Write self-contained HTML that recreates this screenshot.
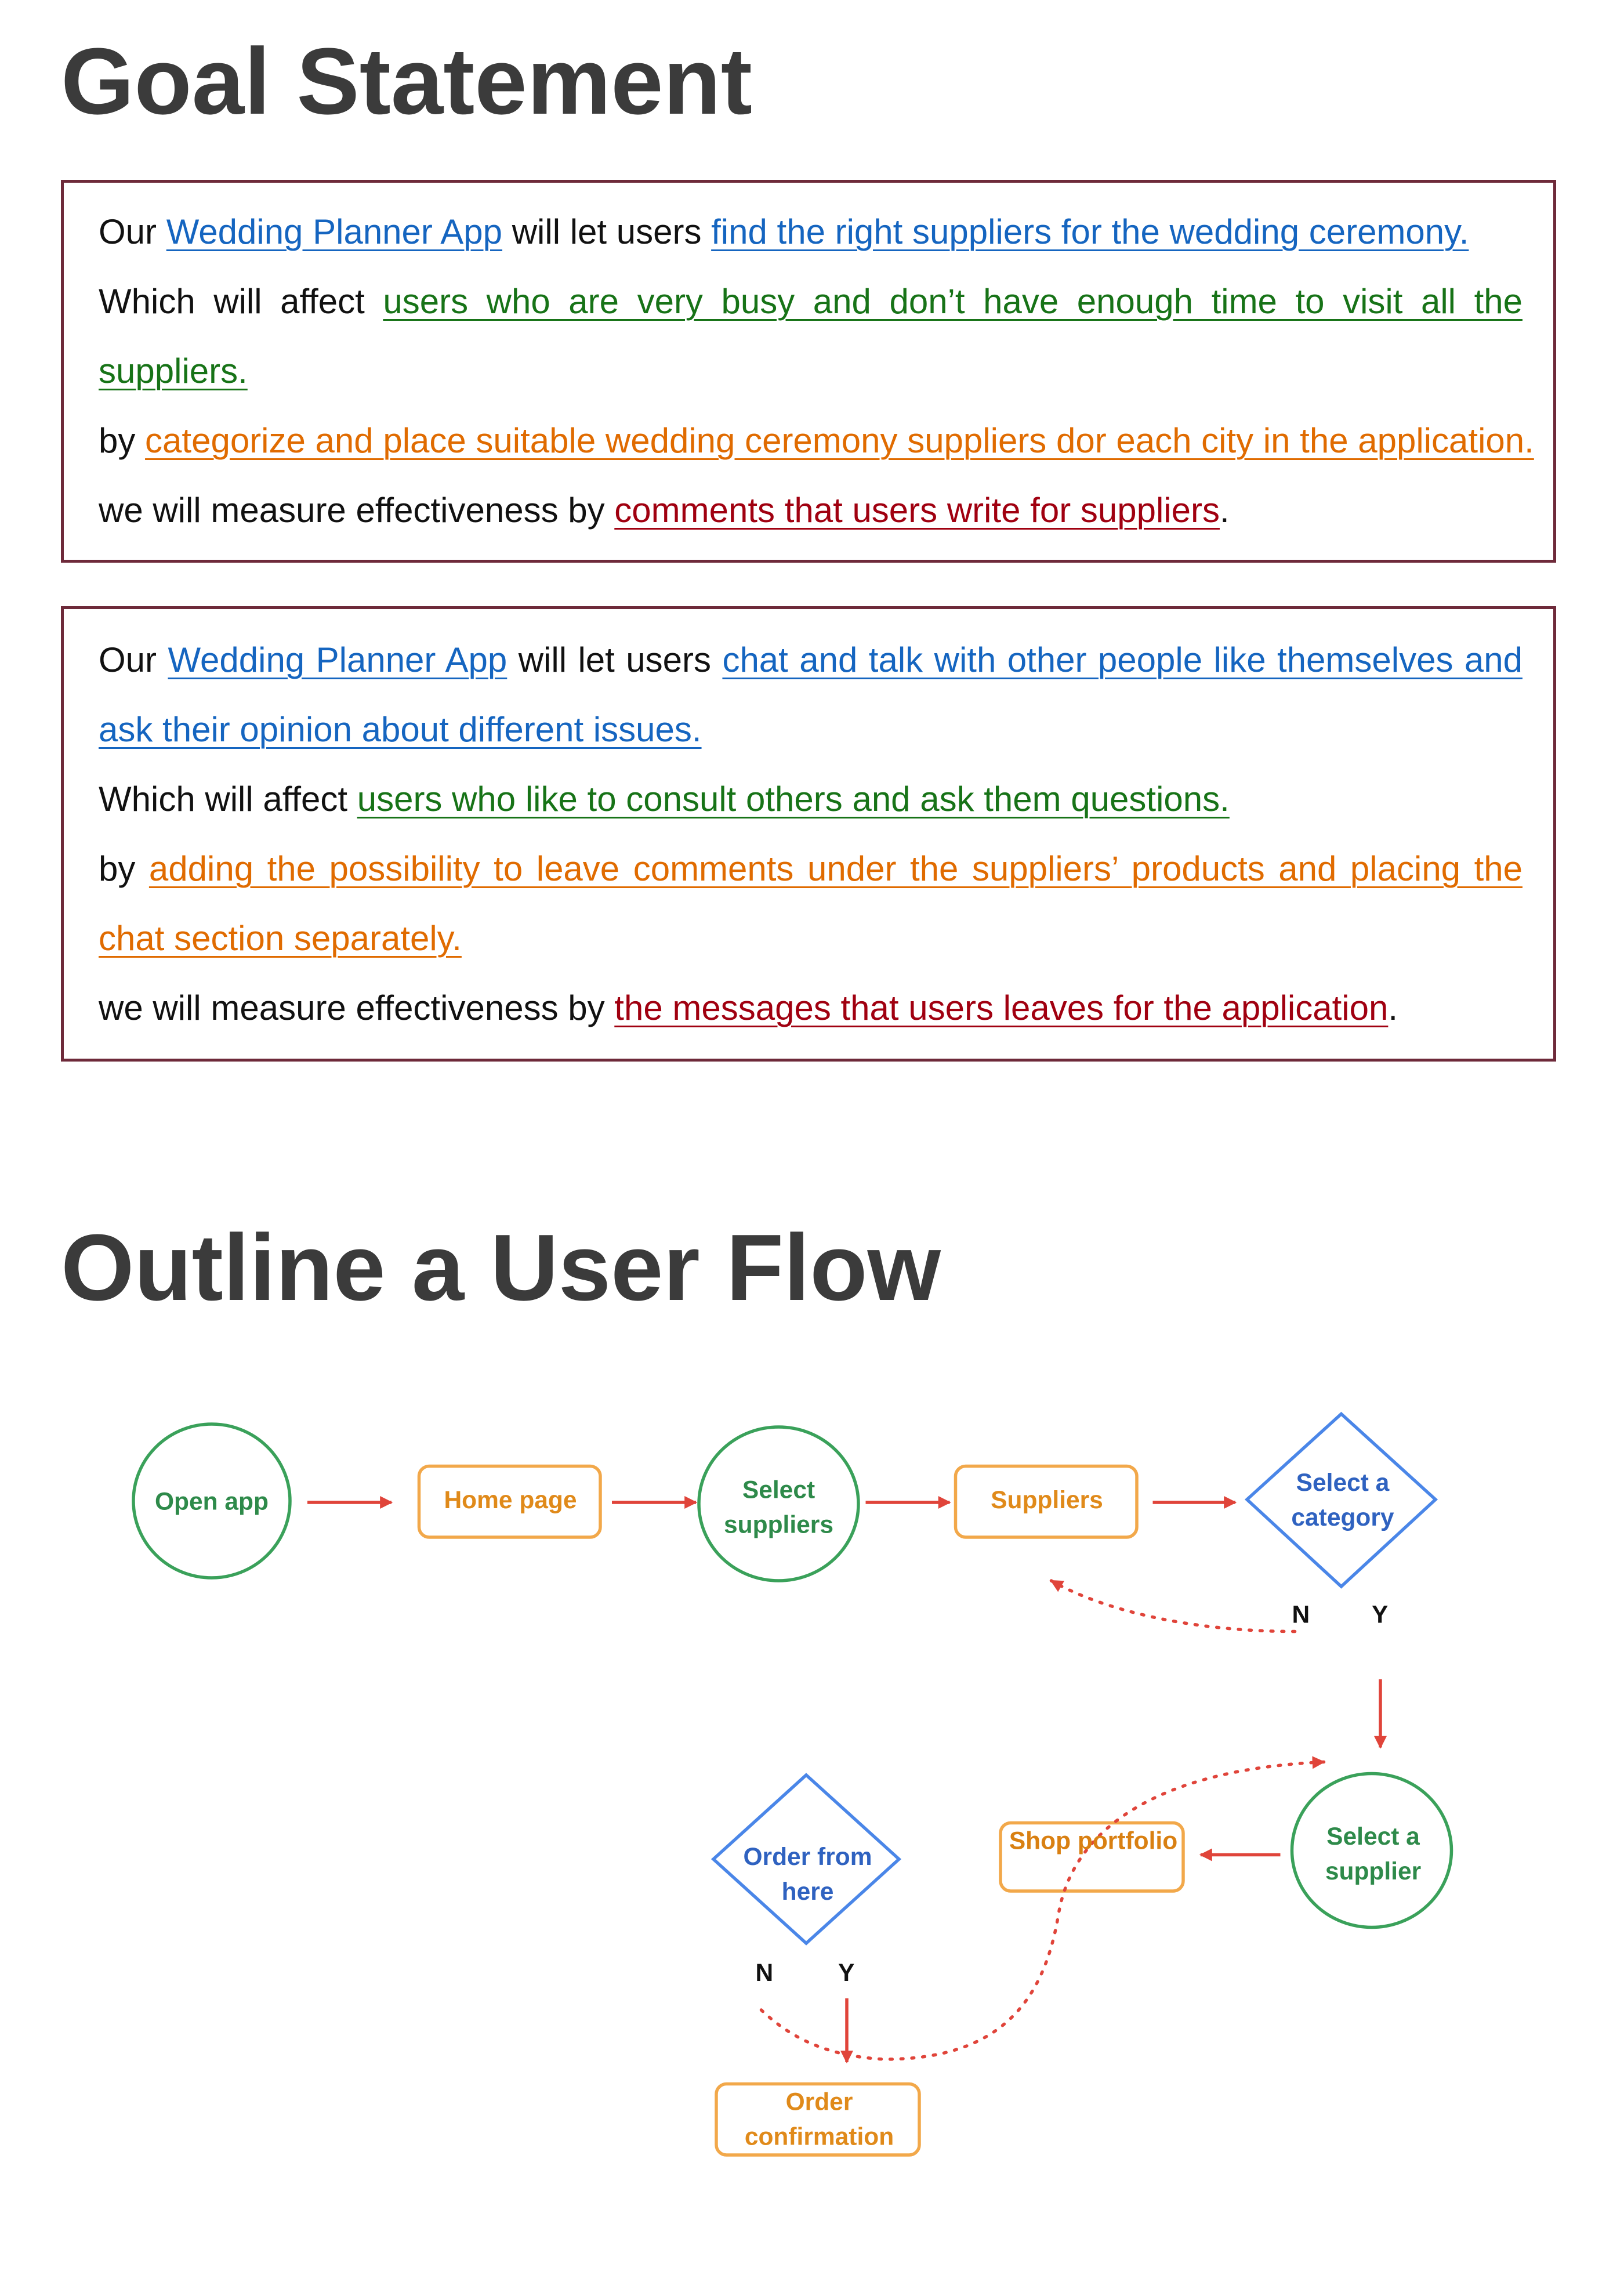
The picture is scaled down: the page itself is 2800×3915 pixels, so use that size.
<!DOCTYPE html>
<html><head><meta charset="utf-8"><style>
html,body{margin:0;padding:0;background:#fff}
body{width:1120px;height:1565.6px;zoom:2.5;position:relative;overflow:hidden;font-family:"Liberation Sans",sans-serif}
.t{position:absolute;left:42px;font-size:65px;font-weight:bold;color:#3b3b3b;line-height:1;white-space:nowrap}
.box{position:absolute;left:42px;width:1027px;border:2px solid #6e2a3a}
.l{position:absolute;left:68px;font-size:24px;line-height:1;white-space:nowrap;color:#111}
.j{width:982px;text-align:justify;text-align-last:justify;white-space:normal}
.u{text-decoration:underline;text-underline-offset:4px;text-decoration-thickness:1px}
.b{color:#1565c0}.g{color:#177317}.o{color:#e06b00}.r{color:#a00010}
svg{position:absolute;left:0;top:0}
</style></head><body>
<div class="t" style="top:24px">Goal Statement</div>
<div class="box" style="top:124px;height:260px"></div>
<div class="l" style="top:148px">Our <span class="u b">Wedding Planner App</span> will let users <span class="u b">find the right suppliers for the wedding ceremony.</span></div>
<div class="l j" style="top:196px">Which will affect <span class="u g">users who are very busy and don’t have enough time to visit all the</span></div>
<div class="l" style="top:244px"><span class="u g">suppliers.</span></div>
<div class="l" style="top:292px">by <span class="u o">categorize and place suitable wedding ceremony suppliers dor each city in the application.</span></div>
<div class="l" style="top:340px">we will measure effectiveness by <span class="u r">comments that users write for suppliers</span>.</div>

<div class="box" style="top:418px;height:310px"></div>
<div class="l j" style="top:443px">Our <span class="u b">Wedding Planner App</span> will let users <span class="u b">chat and talk with other people like themselves and</span></div>
<div class="l" style="top:491px"><span class="u b">ask their opinion about different issues.</span></div>
<div class="l" style="top:539px">Which will affect <span class="u g">users who like to consult others and ask them questions.</span></div>
<div class="l j" style="top:587px">by <span class="u o">adding the possibility to leave comments under the suppliers’ products and placing the</span></div>
<div class="l" style="top:635px"><span class="u o">chat section separately.</span></div>
<div class="l" style="top:683px">we will measure effectiveness by <span class="u r">the messages that users leaves for the application</span>.</div>

<div class="t" style="top:842px">Outline a User Flow</div>

<svg width="1120" height="1566" viewBox="0 0 1120 1566" font-family="Liberation Sans, sans-serif" font-weight="bold" font-size="17">
<defs><marker id="a" viewBox="0 0 10 10" refX="9" refY="5" markerWidth="4" markerHeight="4" orient="auto"><path d="M0,0L10,5L0,10z" fill="#e0443a"/></marker></defs>
<g fill="none" stroke-width="2.2">
<ellipse cx="146" cy="1035" rx="54" ry="53" stroke="#3aa15a"/>
<rect x="289" y="1011" width="125" height="49" rx="7" stroke="#f2a84a"/>
<ellipse cx="537" cy="1037" rx="55" ry="53" stroke="#3aa15a"/>
<rect x="659" y="1011" width="125" height="49" rx="7" stroke="#f2a84a"/>
<path d="M925,975L990,1034L925,1094L860,1034Z" stroke="#4a86e8"/>
<ellipse cx="946" cy="1276" rx="55" ry="53" stroke="#3aa15a"/>
<rect x="690" y="1257" width="126" height="47" rx="7" stroke="#f2a84a"/>
<path d="M556,1224L620,1282L556,1340L492,1282Z" stroke="#4a86e8"/>
<rect x="494" y="1437" width="140" height="49" rx="7" stroke="#f2a84a"/>
</g>
<g stroke="#e0443a" stroke-width="2.2" fill="none">
<path d="M212,1036H270" marker-end="url(#a)"/>
<path d="M422,1036H480" marker-end="url(#a)"/>
<path d="M597,1036H655" marker-end="url(#a)"/>
<path d="M795,1036H852" marker-end="url(#a)"/>
<path d="M952,1158V1205" marker-end="url(#a)"/>
<path d="M883,1279H828" marker-end="url(#a)"/>
<path d="M584,1378V1422" marker-end="url(#a)"/>
<path d="M893,1125C820,1125 760,1110 725,1090" stroke-dasharray="1.5 6" stroke-linecap="round" marker-end="url(#a)"/>
<path d="M525,1386C545,1405 570,1418 610,1420C690,1420 720,1380 730,1320C740,1260 800,1220 913,1215" stroke-dasharray="1.5 6" stroke-linecap="round" marker-end="url(#a)"/>
</g>
<g text-anchor="middle">
<text x="146" y="1041" fill="#2e8a4a">Open app</text>
<text x="352" y="1040" fill="#e08a1a">Home page</text>
<text x="537" y="1033" fill="#2e8a4a">Select</text><text x="537" y="1057" fill="#2e8a4a">suppliers</text>
<text x="722" y="1040" fill="#e08a1a">Suppliers</text>
<text x="926" y="1028" fill="#2f62c0">Select a</text><text x="926" y="1052" fill="#2f62c0">category</text>
<text x="947" y="1272" fill="#2e8a4a">Select a</text><text x="947" y="1296" fill="#2e8a4a">supplier</text>
<text x="754" y="1275" fill="#d98012">Shop portfolio</text>
<text x="557" y="1286" fill="#2f62c0">Order from</text><text x="557" y="1310" fill="#2f62c0">here</text>
<text x="565" y="1455" fill="#e08a1a">Order</text><text x="565" y="1479" fill="#e08a1a">confirmation</text>
</g>
<g fill="#111" font-size="17">
<text x="891" y="1119">N</text><text x="946" y="1119">Y</text>
<text x="521" y="1366">N</text><text x="578" y="1366">Y</text>
</g>
</svg>
</body></html>
